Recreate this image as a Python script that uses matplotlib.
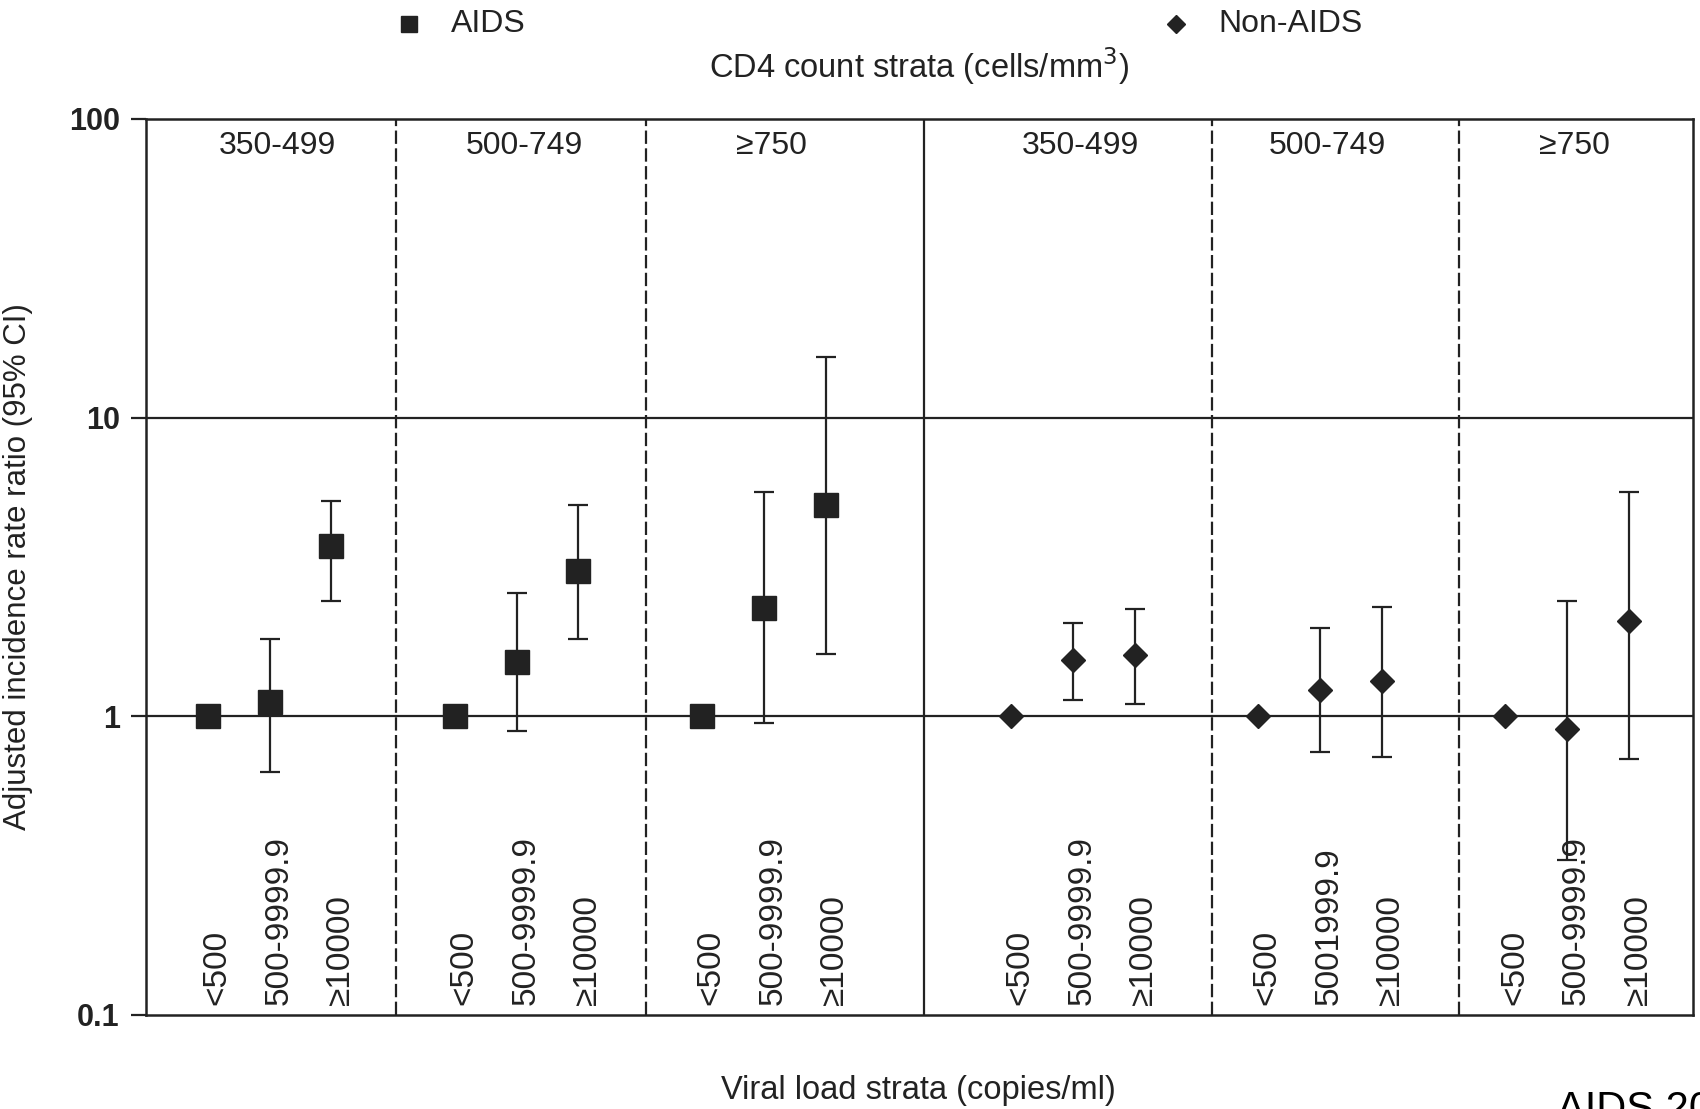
import matplotlib
matplotlib.use("Agg")
import matplotlib.pyplot as plt
from matplotlib.lines import Line2D
from matplotlib.transforms import blended_transform_factory
import numpy as np

plt.rcParams['font.family'] = ['Liberation Sans', 'DejaVu Sans']

# CD4 strata (panel headers) and viral load strata (point labels)
cd4_strata = ["350-499", "500-749", "≥750", "350-499", "500-749", "≥750"]
vl_labels = [
    ["<500", "500-9999.9", "≥10000"],
    ["<500", "500-9999.9", "≥10000"],
    ["<500", "500-9999.9", "≥10000"],
    ["<500", "500-9999.9", "≥10000"],
    ["<500", "5001999.9", "≥10000"],
    ["<500", "500-9999.9", "≥10000"],
]

# adjusted IRR with 95% CI, reference group (<500) has no interval
aids_irr = [1.0, 1.12, 3.71, 1.0, 1.52, 3.06, 1.0, 2.30, 5.09]
aids_lo = [None, 0.65, 2.44, None, 0.89, 1.82, None, 0.95, 1.61]
aids_hi = [None, 1.82, 5.26, None, 2.59, 5.09, None, 5.62, 15.96]

nonaids_irr = [1.0, 1.54, 1.60, 1.0, 1.22, 1.31, 1.0, 0.905, 2.09]
nonaids_lo = [None, 1.13, 1.10, None, 0.76, 0.73, None, 0.33, 0.717]
nonaids_hi = [None, 2.05, 2.28, None, 1.98, 2.32, None, 2.44, 5.65]

ink = "#222222"

# slot layout: 3 points per panel
panel_starts = [1, 5, 9, 14, 18, 22]
dividers = [4.05, 8.1, 12.6, 17.25, 21.25]
x_all = [s + j for s in panel_starts for j in range(3)]
aids_x = x_all[:9]
nonaids_x = x_all[9:]

fig = plt.figure(figsize=(17, 11.09), dpi=100)
ax = fig.add_axes([0.0859, 0.0848, 0.910, 0.808])
ax.set_yscale("log")
ax.set_ylim(0.1, 100)
ax.set_xlim(0, 25.04)


def draw_group(xs, irr, lo, hi, marker, ms):
    ex, ey, elo, ehi = [], [], [], []
    for x, v, l, h in zip(xs, irr, lo, hi):
        if l is None:
            continue
        ex.append(x)
        ey.append(v)
        elo.append(v - l)
        ehi.append(h - v)
    ax.errorbar(ex, ey, yerr=[elo, ehi], fmt="none", ecolor=ink,
                elinewidth=1.6, capsize=7, capthick=1.6, zorder=3)
    ax.plot(xs, irr, linestyle="none", marker=marker, markersize=ms,
            color=ink, zorder=4)


draw_group(aids_x, aids_irr, aids_lo, aids_hi, "s", 17)
draw_group(nonaids_x, nonaids_irr, nonaids_lo, nonaids_hi, "D", 12.5)

# reference lines and panel separators
for yv in (1, 10):
    ax.axhline(yv, color=ink, linewidth=1.6, zorder=2)
for i, d in enumerate(dividers):
    if i == 2:
        ax.axvline(d, color=ink, linewidth=1.6, zorder=2)
    else:
        ax.axvline(d, color=ink, linewidth=1.6, linestyle=(0, (6, 2)), zorder=2)

trans = blended_transform_factory(ax.transData, ax.transAxes)
for s, head, labs in zip(panel_starts, cd4_strata, vl_labels):
    ax.text(s + 1.12, 0.97, head, transform=trans, ha="center", va="center",
            fontsize=23, color=ink)
    for j, lab in enumerate(labs):
        ax.text(s + j + 0.15, 0.011, lab, transform=trans, rotation=90,
                ha="center", va="bottom", fontsize=24, color=ink)

ax.set_xticks([])
ax.set_yticks([0.1, 1, 10, 100])
ax.set_yticklabels(["0.1", "1", "10", "100"], fontweight="bold")
ax.yaxis.set_minor_locator(matplotlib.ticker.NullLocator())
ax.tick_params(axis="y", direction="out", length=11, width=1.6, color=ink,
               labelsize=22, labelcolor=ink, pad=8)
for sp in ax.spines.values():
    sp.set_color(ink)
    sp.set_linewidth(1.8)

ax.set_ylabel("Adjusted incidence rate ratio (95% CI)", fontsize=22.5,
              color=ink)
ax.yaxis.set_label_coords(-0.073, 0.5)

fig.text(0.5405, 1 - 1090 / 1109, "Viral load strata (copies/ml)",
         ha="center", va="center", fontsize=23.5, color=ink)
fig.text(0.5405, 1 - 66 / 1109, "CD4 count strata (cells/mm$^3$)",
         ha="center", va="center", fontsize=23.5, color=ink)

# legend drawn in figure coordinates
fig.add_artist(Line2D([409 / 1700], [1 - 24 / 1109], transform=fig.transFigure,
                      marker="s", markersize=12, color=ink, linestyle="none"))
fig.text(451 / 1700, 1 - 24 / 1109, "AIDS", ha="left", va="center",
         fontsize=23, color=ink)
fig.add_artist(Line2D([1176 / 1700], [1 - 24 / 1109], transform=fig.transFigure,
                      marker="D", markersize=9, color=ink, linestyle="none"))
fig.text(1218 / 1700, 1 - 24 / 1109, "Non-AIDS", ha="left", va="center",
         fontsize=23, color=ink)

fig.text(1557 / 1700, -0.011, "AIDS 2010", ha="left", va="baseline",
         fontsize=30, color="black")

fig.savefig("out.png", dpi=100)
